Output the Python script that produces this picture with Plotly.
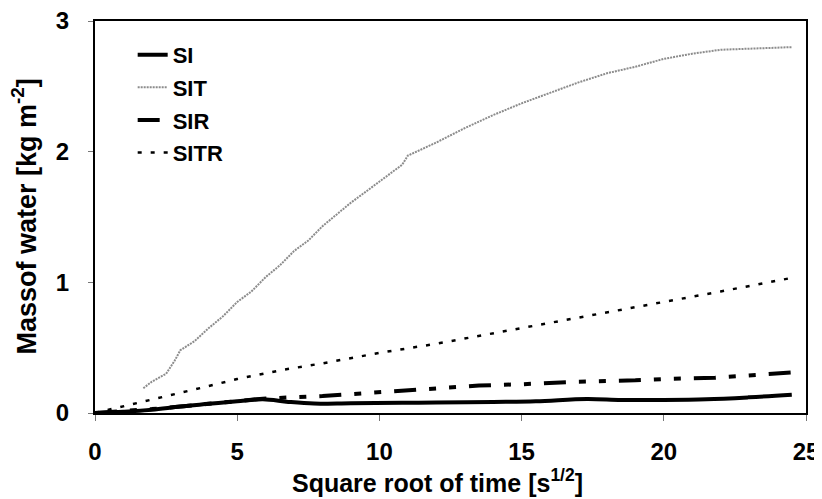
import plotly.graph_objects as go

# Data
si_x = [0, 1, 2, 3, 4, 5, 5.9, 6.8, 7.7, 9, 10.8, 12, 14, 15.5, 17.3, 18.5, 20, 21.5, 23, 24.5]
si_y = [0, 0.01, 0.025, 0.05, 0.07, 0.09, 0.105, 0.085, 0.072, 0.075, 0.078, 0.08, 0.085, 0.09, 0.108, 0.1, 0.1, 0.105, 0.12, 0.14]

sit_x = [1.7, 2.0, 2.5, 2.8, 3.0, 3.5, 4.0, 4.5, 5.0, 5.5, 6.0, 6.5, 7.0, 7.5, 8.0, 8.5, 9.0,
         9.5, 10.0, 10.5, 10.8, 11.0, 12, 13, 14, 15, 16, 17, 18, 19, 20, 21, 22, 23, 24, 24.5]
sit_y = [0.19, 0.24, 0.30, 0.40, 0.48, 0.55, 0.65, 0.74, 0.85, 0.93, 1.04, 1.13, 1.24, 1.32, 1.43,
         1.52, 1.61, 1.69, 1.77, 1.85, 1.90, 1.97, 2.07, 2.18, 2.28, 2.37, 2.45, 2.53, 2.60, 2.65,
         2.71, 2.75, 2.78, 2.79, 2.80, 2.80]

sir_x = [0, 2, 4, 5.9, 8, 10, 12, 13.5, 15, 17, 19, 20, 21.8, 23, 24.5]
sir_y = [0, 0.03, 0.07, 0.11, 0.13, 0.16, 0.19, 0.21, 0.22, 0.24, 0.25, 0.26, 0.27, 0.29, 0.31]

sitr_x = [0, 1, 2, 3.5, 5, 6.6, 8, 10, 12, 15.2, 18, 20, 22, 24.4]
sitr_y = [0, 0.05, 0.1, 0.18, 0.26, 0.33, 0.38, 0.46, 0.53, 0.66, 0.77, 0.85, 0.93, 1.03]

x_ticks = [0, 5, 10, 15, 20, 25]
y_ticks = [0, 1, 2, 3]

x_title = "Square root of time [s<sup>1/2</sup>]"
y_title = "Massof water [kg m<sup>-2</sup>]"

fig = go.Figure()
fig.add_trace(go.Scatter(x=si_x, y=si_y, name="SI", mode="lines", line_shape="spline",
                         line=dict(color="black", width=4), legendgroup="a"))
fig.add_trace(go.Scatter(x=sit_x, y=sit_y, name="SIT", mode="lines",
                         line=dict(color="#8c8c8c", width=2, dash="2px,1px"), legendgroup="b"))
fig.add_trace(go.Scatter(x=sir_x, y=sir_y, name="SIR", mode="lines",
                         line=dict(color="black", width=4, dash="22px,13px,7px,13px,7px,13px"),
                         legendgroup="c"))
fig.add_trace(go.Scatter(x=sitr_x, y=sitr_y, name="SITR", mode="lines",
                         line=dict(color="black", width=2.5, dash="4px,9px"), legendgroup="d"))

font_family = "Liberation Sans, Arial, sans-serif"
bold = dict(family=font_family, color="black", weight="bold")
# The page body adds an 8px margin, so the figure is offset by 8px.
fig.update_layout(
    width=814, height=491,
    margin=dict(l=87, r=16, t=13, b=86, autoexpand=False),
    paper_bgcolor="white", plot_bgcolor="white",
    font=dict(family=font_family, size=20, color="black"),
    showlegend=True,
    legend=dict(x=0.053, y=0.967, xanchor="left", yanchor="top",
                bgcolor="rgba(0,0,0,0)", font=dict(size=22, **bold),
                traceorder="grouped", tracegroupgap=1, itemwidth=30),
    xaxis=dict(range=[0, 25], tickvals=x_ticks, ticks="outside", ticklen=6, tickwidth=1,
               tickcolor="#777", showline=True, linecolor="black", linewidth=2, mirror=True,
               showgrid=False, zeroline=False, automargin=False, ticklabelstandoff=10,
               ticklabeloverflow="allow", tickfont=dict(size=24, **bold)),
    yaxis=dict(range=[0, 3], tickvals=y_ticks, ticks="outside", ticklen=5, tickwidth=1,
               tickcolor="#777", showline=True, linecolor="black", linewidth=2, mirror=True,
               showgrid=False, zeroline=False, automargin=False, ticklabelstandoff=14,
               ticklabeloverflow="allow", tickfont=dict(size=24, **bold)),
    annotations=[
        dict(text=x_title, xref="paper", yref="paper", x=0.482, y=0, xanchor="center",
             yanchor="middle", yshift=-68, showarrow=False, font=dict(size=25, **bold)),
        dict(text=y_title, xref="paper", yref="paper", x=0, y=0.501, xanchor="center",
             yanchor="middle", xshift=-71, textangle=-90, showarrow=False,
             font=dict(size=27, **bold)),
    ],
)

fig.write_html("out.html")
